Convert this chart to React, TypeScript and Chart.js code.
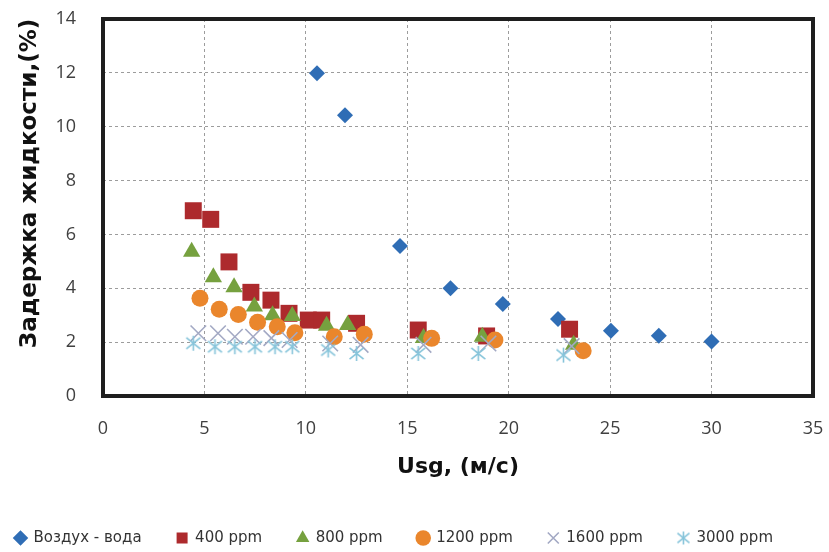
import { useEffect, useRef } from "react";
import { Chart, registerables } from "chart.js";

Chart.register(...registerables);

const seriesLabels = ["Воздух - вода", "400 ppm", "800 ppm", "1200 ppm", "1600 ppm", "3000 ppm"];

const airWaterX = [10.55, 11.93, 14.64, 17.13, 19.71, 22.43, 25.04, 27.4, 30.0];
const airWaterY = [11.99, 10.43, 5.57, 4.0, 3.42, 2.86, 2.42, 2.24, 2.02];

const ppm400X = [4.45, 5.31, 6.21, 7.29, 8.28, 9.17, 10.12, 10.78, 12.5, 15.54, 18.91, 23.0];
const ppm400Y = [6.88, 6.56, 4.98, 3.85, 3.56, 3.07, 2.82, 2.82, 2.7, 2.45, 2.23, 2.48];

const ppm800X = [4.37, 5.44, 6.46, 7.46, 8.36, 9.33, 11.02, 12.06, 15.8, 18.7, 23.2];
const ppm800Y = [5.36, 4.41, 4.04, 3.32, 3.0, 2.97, 2.61, 2.64, 2.15, 2.2, 1.9];

const ppm1200X = [4.78, 5.73, 6.67, 7.62, 8.59, 9.46, 11.4, 12.88, 16.2, 19.32, 23.67];
const ppm1200Y = [3.63, 3.22, 3.03, 2.74, 2.57, 2.35, 2.2, 2.29, 2.14, 2.08, 1.68];

const ppm1600X = [4.7, 5.67, 6.5, 7.4, 8.3, 9.2, 11.2, 12.7, 15.8, 19.0, 23.1];
const ppm1600Y = [2.33, 2.33, 2.2, 2.2, 2.15, 2.08, 1.95, 1.9, 1.9, 1.95, 1.85];

const ppm3000X = [4.45, 5.52, 6.5, 7.49, 8.48, 9.33, 11.1, 12.5, 15.54, 18.5, 22.7];
const ppm3000Y = [1.96, 1.83, 1.83, 1.83, 1.83, 1.83, 1.71, 1.58, 1.58, 1.58, 1.52];

const xTitle = "Usg, (м/с)";
const yTitle = "      Задержка жидкости,(%)";

function zip(xs: number[], ys: number[]) {
  return xs.map((x, i) => ({ x, y: ys[i] }));
}

function makeAsterisk(size: number, color: string, lw: number) {
  const c = document.createElement("canvas");
  c.width = size;
  c.height = size;
  const g = c.getContext("2d")!;
  g.strokeStyle = color;
  g.lineWidth = lw;
  const s = size / 2 - 1.5;
  const m = size / 2;
  g.beginPath();
  g.moveTo(m, m - s - 0.5);
  g.lineTo(m, m + s + 0.5);
  g.moveTo(m - s, m - s * 0.8);
  g.lineTo(m + s, m + s * 0.8);
  g.moveTo(m + s, m - s * 0.8);
  g.lineTo(m - s, m + s * 0.8);
  g.stroke();
  return c;
}

const framePlugin = {
  id: "frame",
  beforeDatasetsDraw(chart: any) {
    const { ctx, chartArea: a } = chart;
    ctx.save();
    ctx.strokeStyle = "#1e1e1e";
    ctx.lineWidth = 4;
    ctx.strokeRect(a.left, a.top, a.right - a.left, a.bottom - a.top);
    ctx.restore();
  },
};

export default function App() {
  const ref = useRef<HTMLCanvasElement | null>(null);

  useEffect(() => {
    document.body.style.margin = "0";
    const asterisk = makeAsterisk(17, "#86c4da", 1.6);
    const asteriskLegend = makeAsterisk(15, "#86c4da", 1.6);
    const colors = ["#2f6db5", "#ad2a2d", "#76a13f", "#ea862c", "#a3a9c4", "#86c4da"];
    const styles: any[] = ["rectRot", "rect", "triangle", "circle", "crossRot", asterisk];
    const radii = [8, 12, 10, 8.5, 11, 8];
    const xs = [airWaterX, ppm400X, ppm800X, ppm1200X, ppm1600X, ppm3000X];
    const ys = [airWaterY, ppm400Y, ppm800Y, ppm1200Y, ppm1600Y, ppm3000Y];

    const datasets = seriesLabels.map((label, i) => ({
      label,
      data: zip(xs[i], ys[i]),
      pointStyle: styles[i],
      pointRadius: radii[i],
      pointHoverRadius: radii[i],
      backgroundColor: colors[i],
      borderColor: colors[i],
      pointBorderWidth: i === 4 ? 1.6 : 0,
      order: 6 - i,
      showLine: false,
    }));

    const chart = new Chart(ref.current!, {
      type: "scatter",
      data: { datasets },
      options: {
        animation: false,
        responsive: false,
        layout: { padding: { top: 19, right: 16, left: -20, bottom: -3.5 } },
        scales: {
          x: {
            type: "linear",
            min: 0,
            max: 35,
            ticks: {
              stepSize: 5,
              padding: 0,
              color: "#404040",
              font: { family: "Open Sans", size: 18 },
            },
            grid: {
              color: "#9c9c9c",
              drawTicks: true,
              tickLength: 22,
              tickColor: "rgba(0,0,0,0)",
              lineWidth: 1,
            },
            border: { display: false, dash: [3, 3] },
            title: {
              display: true,
              text: xTitle,
              color: "#111111",
              font: { family: "DejaVu Sans", size: 22, weight: "bold" },
              padding: { top: 0, bottom: 15 },
            },
            afterFit: (scale: any) => {
              scale.height = 99.5;
            },
          },
          y: {
            type: "linear",
            min: 0,
            max: 14,
            ticks: {
              stepSize: 2,
              padding: 0,
              color: "#404040",
              font: { family: "Open Sans", size: 18 },
            },
            grid: {
              color: "#9c9c9c",
              drawTicks: true,
              tickLength: 27,
              tickColor: "rgba(0,0,0,0)",
              lineWidth: 1,
            },
            border: { display: false, dash: [3, 3] },
            title: {
              display: true,
              text: yTitle,
              color: "#111111",
              font: { family: "DejaVu Sans", size: 23, weight: "bold" },
              padding: { top: 36, bottom: 0 },
            },
            afterFit: (scale: any) => {
              scale.width = 123;
            },
          },
        },
        plugins: {
          tooltip: { enabled: false },
          legend: {
            position: "bottom",
            align: "start",
            labels: {
              usePointStyle: true,
              boxWidth: 11,
              boxHeight: 11,
              padding: 35,
              color: "#333333",
              font: { family: "DejaVu Sans", size: 15 },
              sort: (a: any, b: any) => a.datasetIndex - b.datasetIndex,
              generateLabels: (ch: any) => {
                const base = Chart.defaults.plugins.legend.labels.generateLabels(ch);
                return base.map((item: any) =>
                  item.datasetIndex === 5 ? { ...item, pointStyle: asteriskLegend } : item
                );
              },
            },
          },
        },
      },
      plugins: [framePlugin],
    } as any);

    return () => chart.destroy();
  }, []);

  return (
    <div style={{ width: 829, height: 552 }}>
      <canvas ref={ref} width={829} height={552} style={{ display: "block" }} />
    </div>
  );
}
